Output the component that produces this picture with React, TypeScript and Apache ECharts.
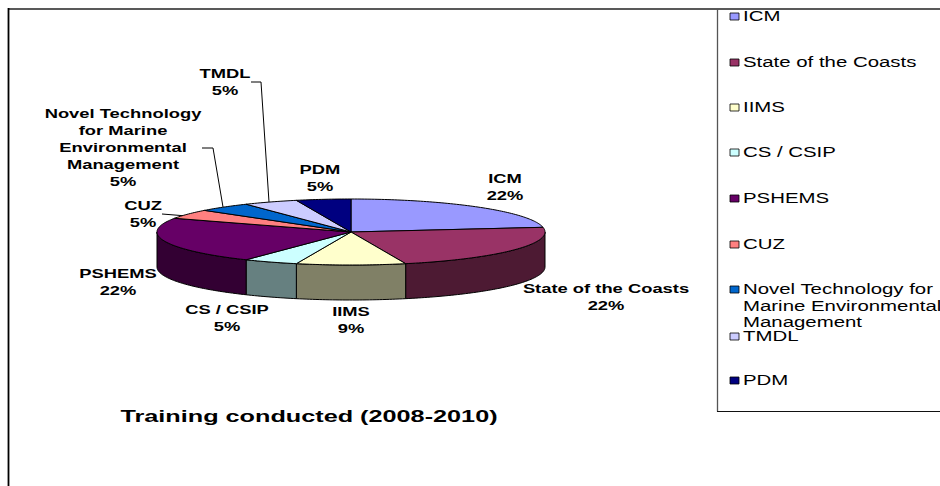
import React, { useEffect, useRef } from "react";
import * as echarts from "echarts";

const categories = ["ICM", "State of the Coasts", "IIMS", "CS / CSIP", "PSHEMS", "CUZ", "Novel Technology for Marine Environmental Management", "TMDL", "PDM"];
const counts = [5, 5, 2, 1, 5, 1, 1, 1, 1];
const percentLabels = ["22%", "22%", "9%", "5%", "22%", "5%", "5%", "5%", "5%"];
const topColors = ["#9999FF", "#993366", "#FFFFCC", "#CCFFFF", "#660066", "#FF8080", "#0066CC", "#CCCCFF", "#000080"];
const sideColors = ["#4D4D80", "#4D1A33", "#808066", "#668080", "#330033", "#804040", "#003366", "#666680", "#000040"];
const chartTitle = "Training conducted (2008-2010)";

const labelLines = [["ICM"], ["State of the Coasts"], ["IIMS"], ["CS / CSIP"], ["PSHEMS"], ["CUZ"], ["Novel Technology", "for Marine", "Environmental", "Management"], ["TMDL"], ["PDM"]];
const labelAnchors = [[505, 178], [606, 288], [351, 311], [227, 309], [118, 273], [143, 205], [123, 113], [225, 73], [320, 169]];
const legendLines = [["ICM"], ["State of the Coasts"], ["IIMS"], ["CS / CSIP"], ["PSHEMS"], ["CUZ"], ["Novel Technology for", "Marine Environmental", "Management"], ["TMDL"], ["PDM"]];
const legendRows = [16, 62, 107, 152, 198, 244, 289, 336, 380];
const leaderLines = [
  [[162, 214], [187, 216]],
  [[202, 148], [213, 148], [223, 207]],
  [[251, 82], [261, 82], [269, 202]],
];

const CX = 351, CY = 232, RX = 194, RY = 33, DEPTH = 35;
const FONT = "Liberation Sans, Arial, sans-serif";
const LINE_H = 17;
const LEGEND_LINE_H = 16.5;

const pt = (deg: number, dy = 0): number[] => {
  const r = (deg * Math.PI) / 180;
  return [CX + RX * Math.sin(r), CY - RY * Math.cos(r) + dy];
};
const arc = (a: number, b: number, dy = 0): number[][] => {
  const out: number[][] = [];
  const n = Math.max(1, Math.ceil(Math.abs(b - a)));
  for (let i = 0; i <= n; i++) out.push(pt(a + ((b - a) * i) / n, dy));
  return out;
};

const total = counts.reduce((s, v) => s + v, 0);
let running = 0;
const sliceData = counts.map((v, i) => {
  const start = (running / total) * 360;
  running += v;
  return { name: categories[i], value: [start, (running / total) * 360, i] };
});

const renderSlice = (_p: any, api: any) => {
  const a = api.value(0), b = api.value(1), i = api.value(2);
  const children: any[] = [];
  const sa = Math.max(a, 90), sb = Math.min(b, 270);
  if (sb > sa) {
    children.push({
      type: "polygon",
      shape: { points: [...arc(sa, sb), ...arc(sb, sa, DEPTH)] },
      style: { fill: sideColors[i], stroke: "#000", lineWidth: 1 },
    });
  }
  children.push({
    type: "polygon",
    shape: { points: [[CX, CY], ...arc(a, b)] },
    style: { fill: topColors[i], stroke: "#000", lineWidth: 1, lineJoin: "round" },
  });
  return { type: "group", children };
};

const txt = (text: string, x: number, y: number, size: number, weight: string, align: string, sx: number) => ({
  type: "text",
  x,
  y,
  scaleX: sx,
  silent: true,
  style: { text, fill: "#000", font: `${weight} ${size}px ${FONT}`, textAlign: align, textVerticalAlign: "middle" },
});

const buildGraphics = () => {
  const g: any[] = [
    { type: "line", shape: { x1: 8, y1: 9, x2: 940, y2: 9 }, style: { stroke: "#222", lineWidth: 1.6 } },
    { type: "line", shape: { x1: 8.5, y1: 8, x2: 8.5, y2: 486 }, style: { stroke: "#000", lineWidth: 1.8 } },
    { type: "line", shape: { x1: 717.5, y1: 9, x2: 717.5, y2: 411.5 }, style: { stroke: "#555", lineWidth: 1.3 } },
    { type: "line", shape: { x1: 717, y1: 411.5, x2: 940, y2: 411.5 }, style: { stroke: "#111", lineWidth: 1.2 } },
    txt(chartTitle, 309, 417, 16.5, "bold", "center", 1.53),
  ];
  leaderLines.forEach((points) => g.push({ type: "polyline", shape: { points }, style: { stroke: "#000", fill: "none", lineWidth: 1 } }));
  categories.forEach((_, i) => {
    const [x, y] = labelAnchors[i];
    [...labelLines[i], percentLabels[i]].forEach((line, k) => g.push(txt(line, x, y + k * LINE_H, 13.5, "bold", "center", 1.36)));
    const row = legendRows[i];
    g.push({ type: "rect", shape: { x: 730, y: row - 3, width: 9, height: 7 }, style: { fill: topColors[i], stroke: "#000", lineWidth: 0.8 } });
    legendLines[i].forEach((line, k) => g.push(txt(line, 743, row + k * LEGEND_LINE_H, 15, "normal", "left", 1.36)));
  });
  return g;
};

export default function App() {
  const ref = useRef<HTMLDivElement>(null);
  useEffect(() => {
    const chart = echarts.init(ref.current!, null, { renderer: "svg" });
    chart.setOption({
      animation: false,
      backgroundColor: "#fff",
      series: [{ type: "custom", coordinateSystem: "none", renderItem: renderSlice, data: sliceData, silent: true }],
      graphic: { elements: buildGraphics() },
    });
    return () => chart.dispose();
  }, []);
  return <div ref={ref} style={{ position: "fixed", left: 0, top: 0, width: 940, height: 486 }} />;
}
